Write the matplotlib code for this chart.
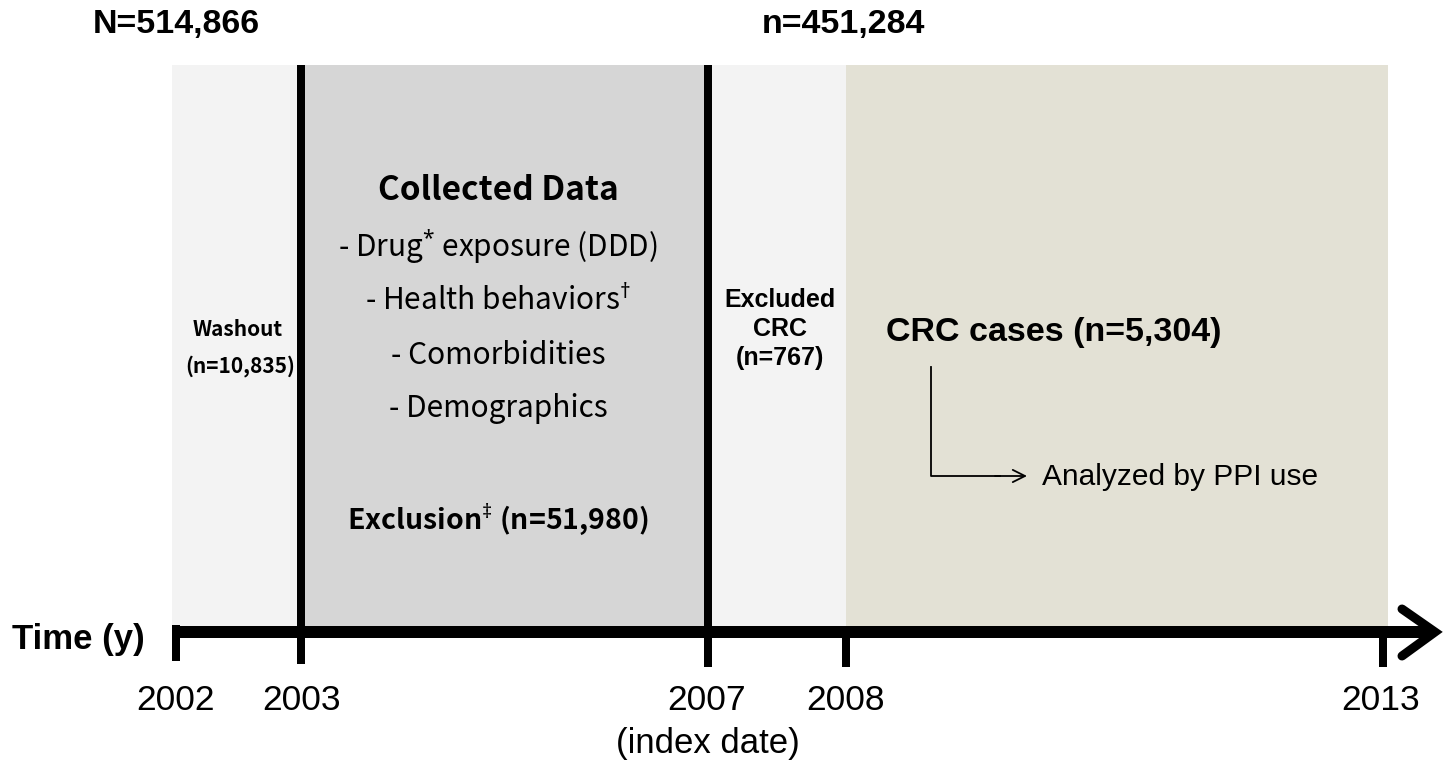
"""Study timeline figure: washout, data collection, index date and CRC follow-up."""

import matplotlib
matplotlib.use("Agg")
import matplotlib.pyplot as plt

# ---- data -------------------------------------------------------------
years = [2002, 2003, 2007, 2008, 2013]
n_total = 514866
n_index = 451284
n_washout = 10835
n_exclusion = 51980
n_excluded_crc = 767
n_cases = 5304
collected_items = ["- Drug$^{*}$ exposure (DDD)", "- Health behaviors$^{\u2020}$",
                   "- Comorbidities", "- Demographics"]

# ---- layout (pixel space of the figure) --------------------------------
W, H = 1448, 761
year_x = dict(zip(years, [176, 301, 708, 846, 1383]))
label_x = dict(zip(years, [175, 302, 707, 846, 1381]))
top, axis_y = 65, 632

# superscript marks come from mathtext; body text in a Korean sans
plt.rcParams["mathtext.fontset"] = "custom"
plt.rcParams["mathtext.rm"] = "Noto Sans"
plt.rcParams["mathtext.bf"] = "Noto Sans"
KR = ["Noto Sans CJK KR", "DejaVu Sans"]
ARIAL = "Liberation Sans"

fig = plt.figure(figsize=(W / 100, H / 100), dpi=100)
ax = fig.add_axes([0, 0, 1, 1])
ax.set_xlim(0, W)
ax.set_ylim(H, 0)
ax.axis("off")

# period backgrounds
spans = [
    (year_x[2002] - 4, year_x[2003], "#f3f3f3"),
    (year_x[2003], year_x[2007], "#d6d6d6"),
    (year_x[2007], year_x[2008], "#f3f3f3"),
    (year_x[2008], year_x[2013] + 5, "#e3e1d5"),
]
for x0, x1, c in spans:
    ax.fill_between([x0, x1], top, axis_y, color=c, lw=0, zorder=0)

# time axis with chevron head
px = 72 / 100  # points per pixel
ax.plot([year_x[2002] - 4, 1430], [axis_y, axis_y], color="black", lw=12 * px,
        solid_capstyle="butt", zorder=3)
ax.plot([1402, 1435, 1402], [609, axis_y, 656], color="black", lw=9 * px,
        solid_joinstyle="miter", solid_capstyle="round", zorder=3)

# ticks / period dividers
tick_span = {2002: (625, 661), 2003: (top, 664), 2007: (top, 667),
             2008: (axis_y, 667), 2013: (axis_y, 667)}
for yr in years:
    y0, y1 = tick_span[yr]
    ax.plot([year_x[yr]] * 2, [y0, y1], color="black", lw=8 * px,
            solid_capstyle="butt", zorder=4)
    ax.text(label_x[yr], 701, str(yr), ha="center", va="center",
            fontsize=25.5, family=ARIAL)
ax.text(year_x[2007], 744, "(index date)", ha="center", va="center",
        fontsize=25, family=ARIAL)
ax.text(12, 640, "Time (y)", ha="left", va="center", fontsize=25,
        family=ARIAL, weight="bold")

# population counts
ax.text(93, 25, f"N={n_total:,}", ha="left", va="center", fontsize=24.5,
        family=ARIAL, weight="bold")
ax.text(762, 25, f"n={n_index:,}", ha="left", va="center", fontsize=24.5,
        family=ARIAL, weight="bold")

# washout
ax.text(238, 329, "Washout", ha="center", va="center", fontsize=15,
        family=KR, weight="bold")
ax.text(240, 366, f"(n={n_washout:,})", ha="center", va="center",
        fontsize=15, family=KR, weight="bold")

# collected data
ax.text(498, 190, "Collected Data", ha="center", va="center", fontsize=24,
        family=KR, weight="bold")
for i, item in enumerate(collected_items):
    ax.text(498, 247 + i * 54, item, ha="center", va="center", fontsize=21.5,
            family=KR)
ax.text(498, 519, "Exclusion$^{\u2021}$ (n=" + f"{n_exclusion:,})",
        ha="center", va="center", fontsize=20.5, family=KR, weight="bold")

# excluded CRC
ax.text(780, 329, f"Excluded\nCRC\n(n={n_excluded_crc:,})", ha="center",
        va="center", fontsize=18, family=ARIAL, weight="bold", linespacing=1.25)

# CRC cases
ax.text(886, 333, f"CRC cases (n={n_cases:,})", ha="left", va="center",
        fontsize=24.5, family=ARIAL, weight="bold")
ax.plot([931, 931, 1000], [367, 476, 476], color="black", lw=1.3, zorder=3)
ax.annotate("", xy=(1027, 476), xytext=(995, 476),
            arrowprops=dict(arrowstyle="->", lw=1.3, color="black",
                            mutation_scale=22, shrinkA=0, shrinkB=0))
ax.text(1042, 477, "Analyzed by PPI use", ha="left", va="center",
        fontsize=21.5, family=ARIAL)

fig.savefig("out.png", dpi=100)
